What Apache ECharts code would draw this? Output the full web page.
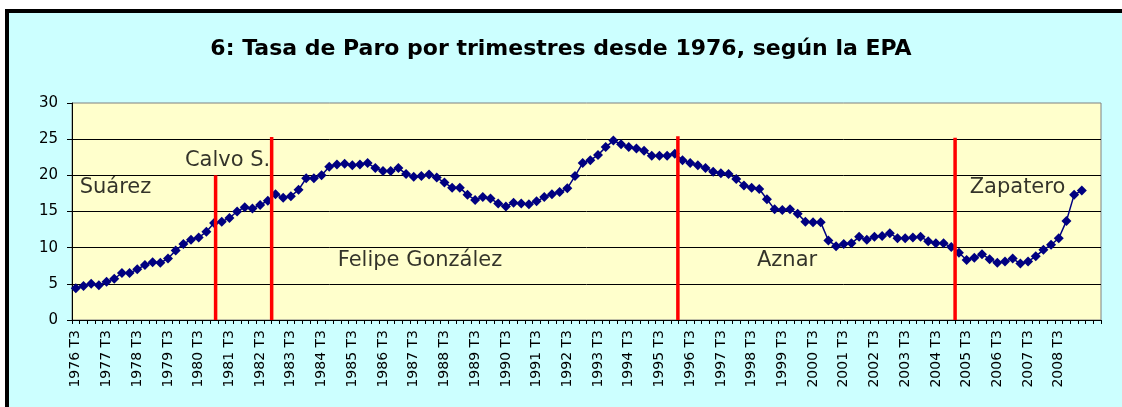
<!DOCTYPE html>
<html>
<head>
<meta charset="utf-8">
<script src="https://cdn.jsdelivr.net/npm/echarts@6/dist/echarts.min.js"></script>
<style>
html, body { margin: 0; padding: 0; background: #ffffff; }
#frame { position: absolute; left: 5px; top: 9px; width: 1117px; height: 398px; box-sizing: border-box;
  border-left: 4px solid #000; border-top: 4px solid #000; background: #CCFFFF; }
#chart { position: absolute; left: 0; top: 0; width: 1122px; height: 407px; }
</style>
</head>
<body>
<div id="frame"></div>
<div id="chart"></div>
<script>
// ---------------- data ----------------
const titleText = '6: Tasa de Paro por trimestres desde 1976, según la EPA';

// quarterly categories: 1976 T3 ... 2009 T4 (axis runs two quarters past the data)
const firstYear = 1976, firstQuarter = 3, categoryCount = 134;
const categories = [];
for (let i = 0; i < categoryCount; i++) {
  const q = (firstQuarter - 1 + i) % 4 + 1;
  const y = firstYear + Math.floor((firstQuarter - 1 + i) / 4);
  categories.push(y + ' T' + q);
}
// every T3 quarter up to 2008 is labelled
const labelledQuarter = 'T3';
const lastLabel = '2008 T3';

// unemployment rate (%), 1976 T3 .. 2009 T2
const paro = [
  4.4, 4.7, 5.0, 4.8, 5.3, 5.7, 6.5, 6.5, 7.0, 7.6,
  8.0, 7.9, 8.5, 9.6, 10.5, 11.1, 11.4, 12.2, 13.4, 13.6,
  14.1, 15.0, 15.6, 15.4, 15.9, 16.5, 17.4, 16.9, 17.1, 18.0,
  19.6, 19.6, 20.0, 21.2, 21.5, 21.6, 21.4, 21.5, 21.7, 21.0,
  20.6, 20.6, 21.0, 20.2, 19.8, 19.9, 20.1, 19.7, 19.0, 18.3,
  18.3, 17.3, 16.6, 17.0, 16.8, 16.1, 15.7, 16.2, 16.1, 16.0,
  16.4, 17.0, 17.4, 17.7, 18.2, 19.9, 21.7, 22.1, 22.8, 23.9,
  24.8, 24.3, 23.9, 23.7, 23.4, 22.7, 22.7, 22.7, 23.0, 22.1,
  21.7, 21.4, 21.0, 20.5, 20.3, 20.2, 19.5, 18.6, 18.3, 18.1,
  16.7, 15.3, 15.2, 15.3, 14.7, 13.6, 13.5, 13.5, 11.0, 10.2,
  10.5, 10.6, 11.5, 11.1, 11.5, 11.6, 12.0, 11.3, 11.3, 11.4,
  11.5, 10.9, 10.6, 10.6, 10.1, 9.3, 8.3, 8.6, 9.1, 8.4,
  7.9, 8.1, 8.5, 7.8, 8.1, 8.8, 9.7, 10.4, 11.3, 13.7,
  17.3, 17.9
];

// change of government markers (position along the quarter axis, top value in %)
const cambioPos = [18.7, 26.0, 78.9, 115.0];
const cambioTop = [20, 25.3, 25.4, 25.2];

// president names (anchor in axis units: quarter position, %)
const presidentes = ['Suárez', 'Calvo S.', 'Felipe González', 'Aznar', 'Zapatero'];
const presPos = [1.0, 14.7, 34.6, 89.2, 116.9];
const presVal = [18.3, 22.1, 8.2, 8.2, 18.3];

// ---------------- chart ----------------
const chart = echarts.init(document.getElementById('chart'), null, { renderer: 'canvas' });

const FONT = 'DejaVu Sans';
const series = [
  {
    type: 'line',
    data: paro,
    xAxisIndex: 0,
    symbol: 'diamond',
    symbolSize: 10,
    showAllSymbol: true,
    itemStyle: { color: '#000080' },
    lineStyle: { color: '#000080', width: 1.5 },
    z: 3,
    silent: true
  }
];
cambioPos.forEach((p, k) => {
  series.push({
    type: 'line',
    xAxisIndex: 1,
    data: [[p, 0], [p, cambioTop[k]]],
    symbol: 'none',
    lineStyle: { color: '#FF0000', width: 3.5 },
    z: 4,
    silent: true
  });
});
series.push({
  type: 'scatter',
  xAxisIndex: 1,
  data: presidentes.map((n, k) => ({ name: n, value: [presPos[k], presVal[k]] })),
  symbolSize: 0,
  label: {
    show: true, position: 'right', distance: 0, formatter: '{b}',
    fontFamily: FONT, fontSize: 21, color: '#000'
  },
  z: 5,
  silent: true
});

chart.setOption({
  backgroundColor: 'transparent',
  animation: false,
  title: {
    text: titleText,
    left: 'center',
    top: 33,
    textStyle: { fontFamily: FONT, fontWeight: 'bold', fontSize: 22, color: '#000' }
  },
  grid: {
    left: 72, right: 21, top: 103, bottom: 87,
    show: true, backgroundColor: '#FFFFCC', borderColor: '#808080', borderWidth: 1,
    containLabel: false, outerBoundsMode: 'none'
  },
  xAxis: [
    {
      type: 'category',
      data: categories,
      boundaryGap: true,
      axisLine: { show: true, lineStyle: { color: '#000', width: 1 } },
      axisTick: { show: true, interval: 0, length: 4, lineStyle: { color: '#000' } },
      axisLabel: {
        interval: (i, v) => v.endsWith(labelledQuarter) && v <= lastLabel,
        rotate: 90, fontFamily: FONT, fontSize: 14, color: '#000', margin: 10,
        hideOverlap: false
      },
      splitLine: { show: false }
    },
    { type: 'value', min: 0, max: categoryCount, show: false }
  ],
  yAxis: {
    type: 'value', min: 0, max: 30, interval: 5,
    axisLine: { show: true, lineStyle: { color: '#000', width: 1 } },
    axisTick: { show: true, length: 5, lineStyle: { color: '#000' } },
    axisLabel: { fontFamily: FONT, fontSize: 15, color: '#000', margin: 14 },
    splitLine: { show: true, showMinLine: false, showMaxLine: false, lineStyle: { color: '#000', width: 1 } }
  },
  series: series
});
</script>
</body>
</html>
